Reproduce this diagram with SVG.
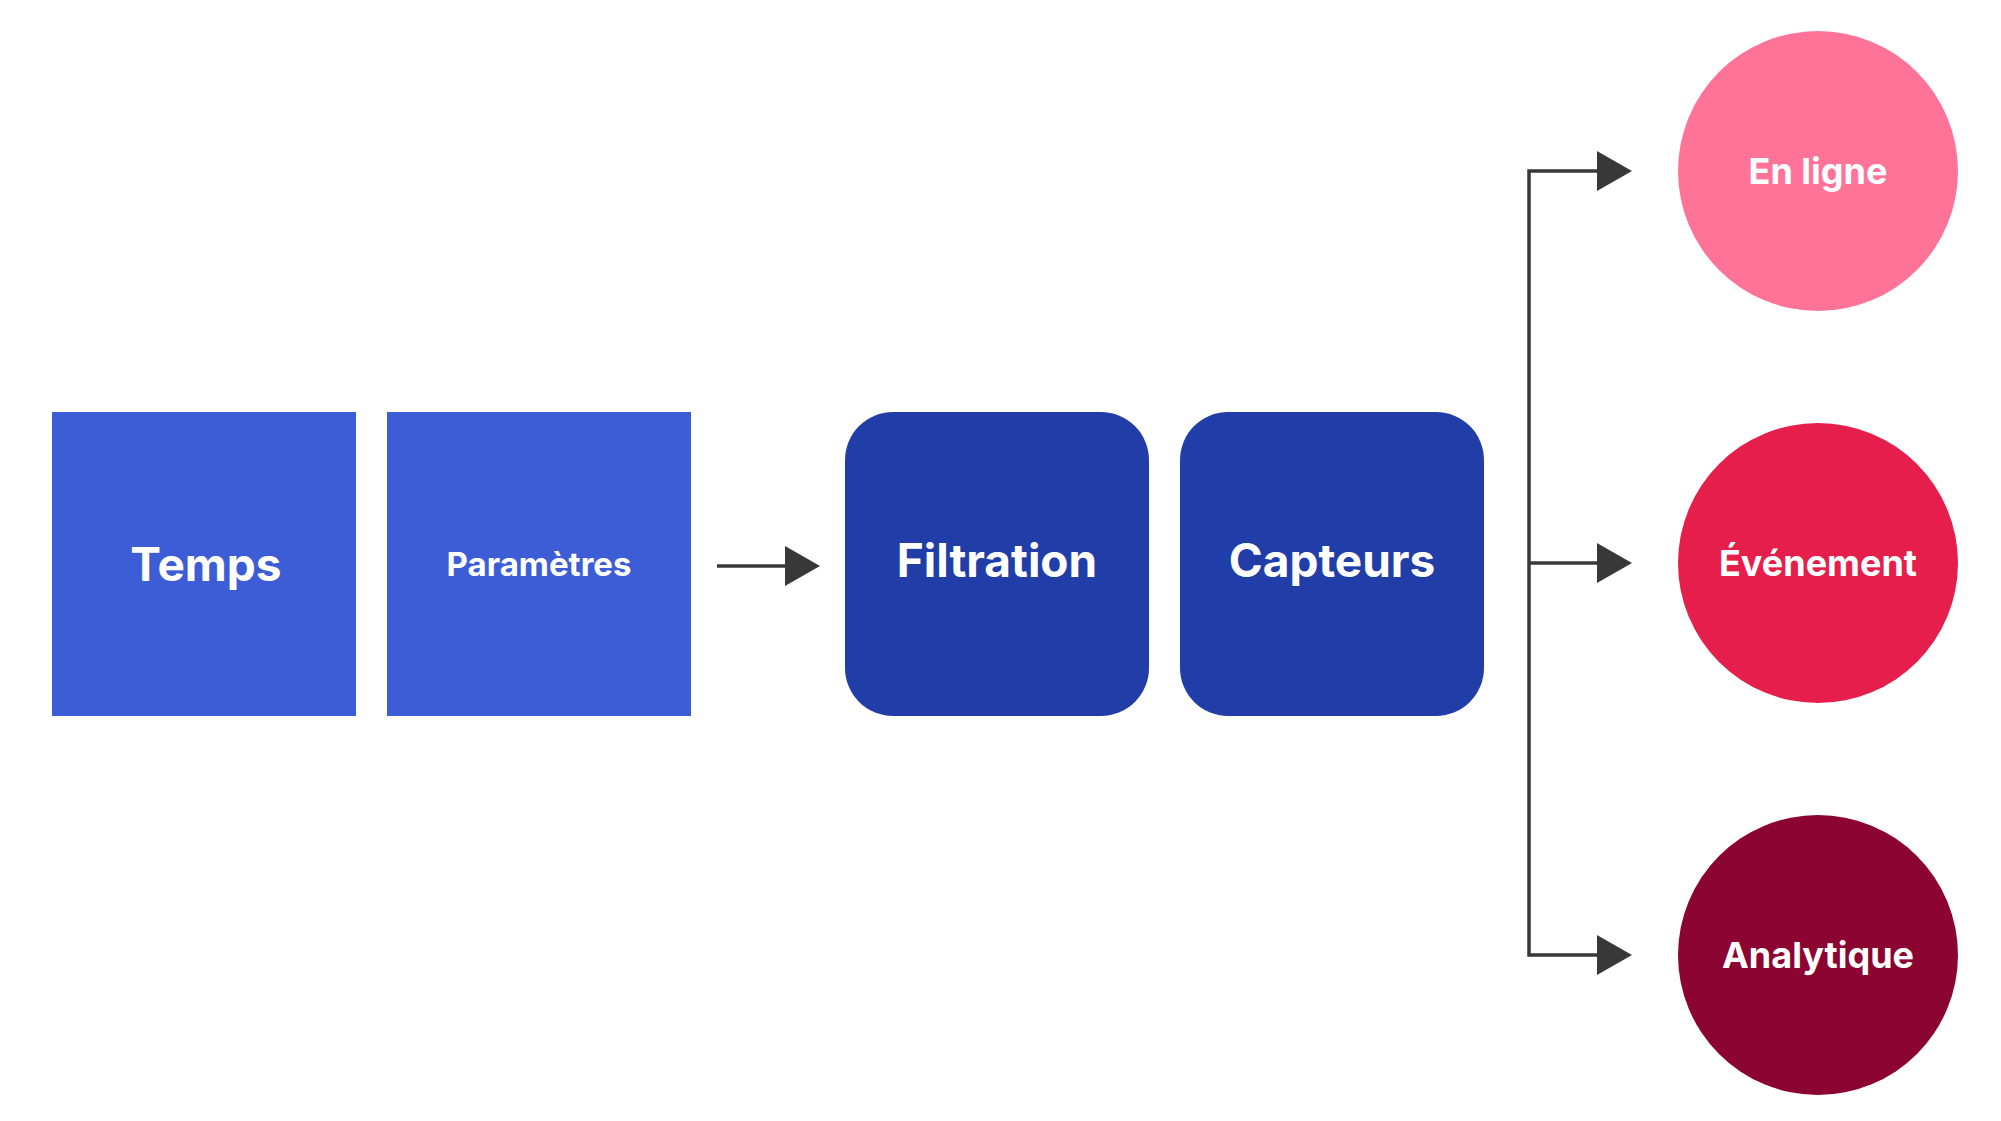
<svg xmlns="http://www.w3.org/2000/svg" width="2001" height="1121" viewBox="0 0 2001 1121">
<style>
text{font-family:"Inter","Liberation Sans",sans-serif;font-weight:700;fill:#fff;text-anchor:middle;dominant-baseline:central}
.ln{stroke:#383838;stroke-width:3.5;fill:none}
.hd{fill:#383838}
</style>
<rect width="2001" height="1121" fill="#fff"/>
<g id="temps"><rect x="52" y="412" width="304" height="304" fill="#3D5DD6"/><text x="206" y="564" font-size="46">Temps</text></g>
<g id="parametres"><rect x="387" y="412" width="304" height="304" fill="#3D5DD6"/><text x="539" y="564" font-size="33">Paramètres</text></g>
<g id="filtration"><rect x="845" y="412" width="304" height="304" rx="48" fill="#213DA8"/><text x="997" y="560" font-size="46">Filtration</text></g>
<g id="capteurs"><rect x="1180" y="412" width="304" height="304" rx="48" fill="#213DA8"/><text x="1332" y="560" font-size="46">Capteurs</text></g>
<g id="enligne"><circle cx="1818" cy="171" r="140" fill="#FF7399"/><text x="1818" y="171" font-size="36">En ligne</text></g>
<g id="evenement"><circle cx="1818" cy="563" r="140" fill="#E61E4B"/><text x="1818" y="563" font-size="36">Événement</text></g>
<g id="analytique"><circle cx="1818" cy="955" r="140" fill="#8C0432"/><text x="1818" y="955" font-size="36">Analytique</text></g>
<g id="connectors">
<line class="ln" x1="717" y1="566" x2="787" y2="566"/><polygon class="hd" points="785,546 820,566 785,586"/>
<polyline class="ln" points="1599,171 1529,171 1529,955 1599,955"/>
<line class="ln" x1="1529" y1="563" x2="1599" y2="563"/>
<polygon class="hd" points="1597,151 1632,171 1597,191"/>
<polygon class="hd" points="1597,543 1632,563 1597,583"/>
<polygon class="hd" points="1597,935 1632,955 1597,975"/>
</g>
</svg>
